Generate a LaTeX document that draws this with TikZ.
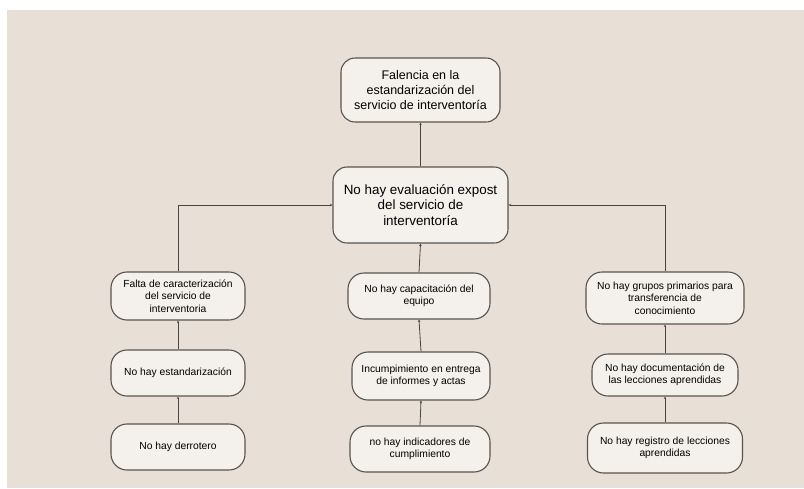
\documentclass[tikz,border=0pt]{standalone}
\usepackage{fontspec}
\setmainfont{Liberation Sans}
\usetikzlibrary{arrows.meta}
\definecolor{bgc}{HTML}{E8E0D7}
\definecolor{boxc}{HTML}{F4F1EC}
\definecolor{edgec}{HTML}{58534E}
\definecolor{linec}{HTML}{4A4540}
\tikzset{
  bigbox/.style={draw=edgec, line width=1.1pt, fill=boxc, rounded corners=14pt, align=center, inner sep=2pt, font=\fontsize{12.5}{15}\selectfont},
  smallbox/.style={draw=edgec, line width=1.1pt, fill=boxc, rounded corners=16pt, align=center, inner sep=1pt, font=\fontsize{10.3}{12.5}\selectfont},
  conn/.style={draw=linec, line width=0.8pt, -{Stealth[length=2.5pt,width=2.5pt]}}
}
\begin{document}
\begin{tikzpicture}[x=1pt,y=-1pt]
\useasboundingbox (0,0) rectangle (804,488);
\fill[white] (0,0) rectangle (804,488);
\fill[bgc] (7,10) rectangle (804,488);

\node[bigbox, minimum width=159pt, minimum height=64pt] (top) at (420.5,90) {Falencia en la\\estandarización del\\servicio de interventoría};
\node[bigbox, minimum width=175pt, minimum height=76pt, font=\fontsize{13.4}{15.5}\selectfont] (mid) at (420.5,205) {No hay evaluación expost\\del servicio de\\interventoría};

\node[smallbox, minimum width=134pt, minimum height=48pt] (l1) at (178,296) {Falta de caracterización\\del servicio de\\interventoria};
\node[smallbox, minimum width=134pt, minimum height=46pt] (l2) at (178,373) {No hay estandarización};
\node[smallbox, minimum width=134pt, minimum height=46pt] (l3) at (178,447) {No hay derrotero};

\node[smallbox, minimum width=142pt, minimum height=46pt] (m1) at (419,296) {No hay capacitación del\\equipo};
\node[smallbox, minimum width=138pt, minimum height=48pt] (m2) at (421,376) {Incumpimiento en entrega\\de informes y actas};
\node[smallbox, minimum width=140pt, minimum height=46pt] (m3) at (420,449) {no hay indicadores de\\cumplimiento};

\node[smallbox, minimum width=158pt, minimum height=52pt] (r1) at (665,298) {No hay grupos primarios para\\transferencia de\\conocimiento};
\node[smallbox, minimum width=146pt, minimum height=42pt] (r2) at (665,375) {No hay documentación de\\las lecciones aprendidas};
\node[smallbox, minimum width=155pt, minimum height=50pt] (r3) at (665,448) {No hay registro de lecciones\\aprendidas};

\draw[conn] (mid.north) -- (top.south);
\draw[conn] (m1.north) -- (mid.south);
\draw[conn] (l1.north) |- (mid.west);
\draw[conn] (r1.north) |- (mid.east);
\draw[conn] (l3.north) -- (l2.south);
\draw[conn] (l2.north) -- (l1.south);
\draw[conn] (m3.north) -- (m2.south);
\draw[conn] (m2.north) -- (m1.south);
\draw[conn] (r3.north) -- (r2.south);
\draw[conn] (r2.north) -- (r1.south);
\end{tikzpicture}
\end{document}
